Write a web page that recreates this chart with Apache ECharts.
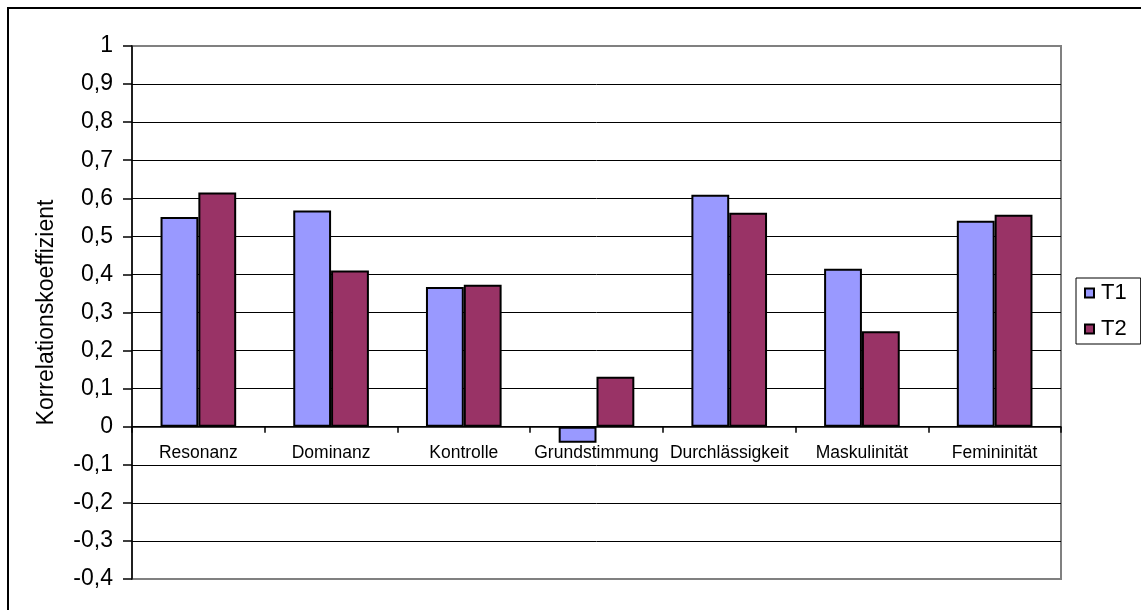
<!DOCTYPE html>
<html>
<head>
<meta charset="utf-8">
<script src="https://cdn.jsdelivr.net/npm/echarts@6/dist/echarts.min.js"></script>
<style>
  html, body { margin: 0; padding: 0; background: #fff; }
  #chart { width: 1141px; height: 610px; }
</style>
</head>
<body>
<div id="chart"></div>
<script>
// Korrelationskoeffizienten je Skala, zwei Messzeitpunkte
const categories = ['Resonanz', 'Dominanz', 'Kontrolle', 'Grundstimmung', 'Durchlässigkeit', 'Maskulinität', 'Femininität'];
const t1Values = [0.551, 0.568, 0.367, -0.042, 0.609, 0.415, 0.541];
const t2Values = [0.615, 0.410, 0.373, 0.131, 0.562, 0.251, 0.557];
const seriesNames = ['T1', 'T2'];
const yTickLabels = ['-0,4', '-0,3', '-0,2', '-0,1', '0', '0,1', '0,2', '0,3', '0,4', '0,5', '0,6', '0,7', '0,8', '0,9', '1'];
const yMin = -0.4, yMax = 1, yStep = 0.1;

const FONT = '"Liberation Sans", Arial, sans-serif';
const GRID_TOP = 46, GRID_HEIGHT = 533;
// the category axis sits on the zero line: shift it up from the plot bottom
const zeroOffset = -GRID_HEIGHT * (0 - yMin) / (yMax - yMin);

const chart = echarts.init(document.getElementById('chart'), null, { renderer: 'canvas' });

chart.setOption({
  animation: false,
  textStyle: { fontFamily: FONT, color: '#000' },
  grid: {
    left: 132, top: GRID_TOP, width: 929, height: GRID_HEIGHT,
    show: true, borderColor: '#808080', borderWidth: 2, backgroundColor: '#fff'
  },
  legend: {
    orient: 'vertical',
    left: 1076, top: 278,
    padding: [4, 14, 4, 8],
    itemGap: 14,
    itemWidth: 9, itemHeight: 9,
    icon: 'rect',
    borderColor: '#000', borderWidth: 1,
    textStyle: { fontSize: 22, fontFamily: FONT, color: '#000', padding: [0, 0, 0, 2] },
    data: seriesNames
  },
  xAxis: {
    type: 'category',
    data: categories,
    position: 'bottom',
    offset: zeroOffset,
    axisLine: { onZero: false, lineStyle: { color: '#000', width: 1.5 } },
    axisTick: { show: true, length: 6, lineStyle: { color: '#000', width: 1.5 } },
    axisLabel: { fontSize: 17.5, color: '#000', margin: 17, interval: 0 },
    splitLine: { show: false }
  },
  yAxis: {
    type: 'value',
    min: yMin, max: yMax, interval: yStep,
    name: 'Korrelationskoeffizient',
    nameLocation: 'middle',
    nameGap: 74,
    nameRotate: 90,
    nameTextStyle: { fontSize: 23, color: '#000', fontFamily: FONT },
    axisLine: { show: true, onZero: false, lineStyle: { color: '#000', width: 1.5 } },
    axisTick: { show: true, length: 9, lineStyle: { color: '#000', width: 1.5 } },
    axisLabel: {
      fontSize: 23, color: '#000', margin: 19,
      formatter: function (v) {
        const idx = Math.round((v - yMin) / yStep);
        return yTickLabels[idx];
      }
    },
    splitLine: { show: true, showMinLine: false, showMaxLine: false, lineStyle: { color: '#000', width: 1 } }
  },
  graphic: [{
    type: 'rect',
    shape: { x: 8, y: 8, width: 1200, height: 700 },
    style: { fill: 'none', stroke: '#000', lineWidth: 2 },
    silent: true, z: 100
  }],
  series: [{
    name: seriesNames[0],
    type: 'bar',
    data: t1Values,
    barGap: '0%',
    barCategoryGap: '43%',
    itemStyle: { color: '#9999FF', borderColor: '#000', borderWidth: 2 }
  }, {
    name: seriesNames[1],
    type: 'bar',
    data: t2Values,
    barGap: '0%',
    barCategoryGap: '43%',
    itemStyle: { color: '#993366', borderColor: '#000', borderWidth: 2 }
  }]
});
</script>
</body>
</html>
